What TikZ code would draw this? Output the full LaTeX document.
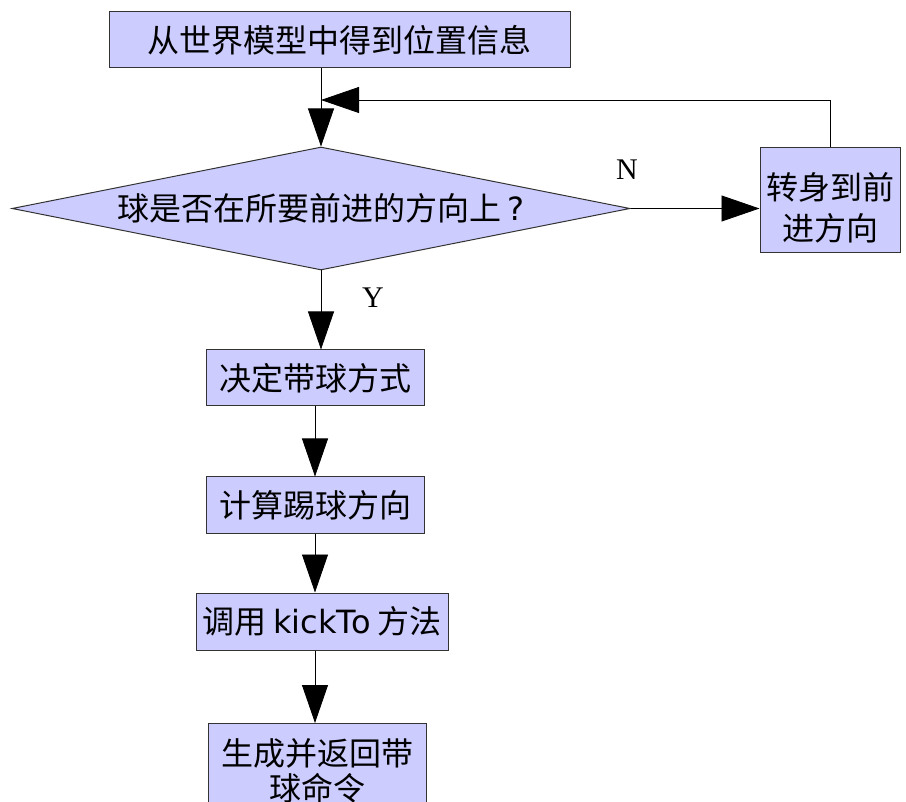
\documentclass[tikz,border=0pt]{standalone}
\usepackage{fontspec}
\setmainfont{Noto Sans CJK SC}
\newfontfamily\latsans{DejaVu Sans}
\newfontfamily\latserif{Liberation Serif}
\usetikzlibrary{arrows.meta,shapes.geometric}
\definecolor{boxfill}{HTML}{CCCCFF}
\definecolor{boxline}{HTML}{333333}
\begin{document}
\begin{tikzpicture}[x=1pt,y=-1pt,
  box/.style={draw=boxline, fill=boxfill, line width=1pt, inner sep=0pt, align=center,
    font=\fontsize{32}{41}\selectfont},
  arr/.style={-{Triangle[length=38pt,width=26pt]}, line width=0.8pt, draw=black},
  lbl/.style={font=\latserif\fontsize{30}{30}\selectfont}]
\useasboundingbox (0,0) rectangle (906,802);
\node[box, minimum width=461pt, minimum height=56pt] (top) at (339.5,40) {从世界模型中得到位置信息};
\node[box, shape=diamond, aspect=5, minimum width=618pt, minimum height=123pt] (dia) at (321,208.5) {球是否在所要前进的方向上{\latsans\,?}};
\node[box, minimum width=140pt, minimum height=105pt, text height=83pt] (turn) at (830,200.5) {转身到前\\进方向};
\node[box, minimum width=218pt, minimum height=56pt] (b2) at (315,378) {决定带球方式};
\node[box, minimum width=218pt, minimum height=56pt] (b3) at (315,505) {计算踢球方向};
\node[box, minimum width=252pt, minimum height=57pt] (b4) at (322,621.5) {调用 {\latsans kickTo} 方法};
\node[box, anchor=north, minimum width=218pt, minimum height=95pt, font=\fontsize{32}{35}\selectfont] (b5) at (317,723) {生成并返回带\\球命令};
\node[lbl] (N) at (627,170) {N};
\node[lbl] (Y) at (373,298) {Y};
\coordinate (fbh) at (0,100);
\draw[arr] (dia.north |- top.south) -- (dia.north);
\draw[arr] (turn.north) |- (dia.north |- fbh);
\draw[arr] (dia.east) -- (dia.east -| turn.west);
\draw[arr] (dia.south) -- (dia.south |- b2.north);
\draw[arr] (b2.south) -- (b3.north);
\draw[arr] (b3.south) -- (b3.south |- b4.north);
\draw[arr] (b4.south -| b3.south) -- (b3.south |- b5.north);
\end{tikzpicture}
\end{document}
